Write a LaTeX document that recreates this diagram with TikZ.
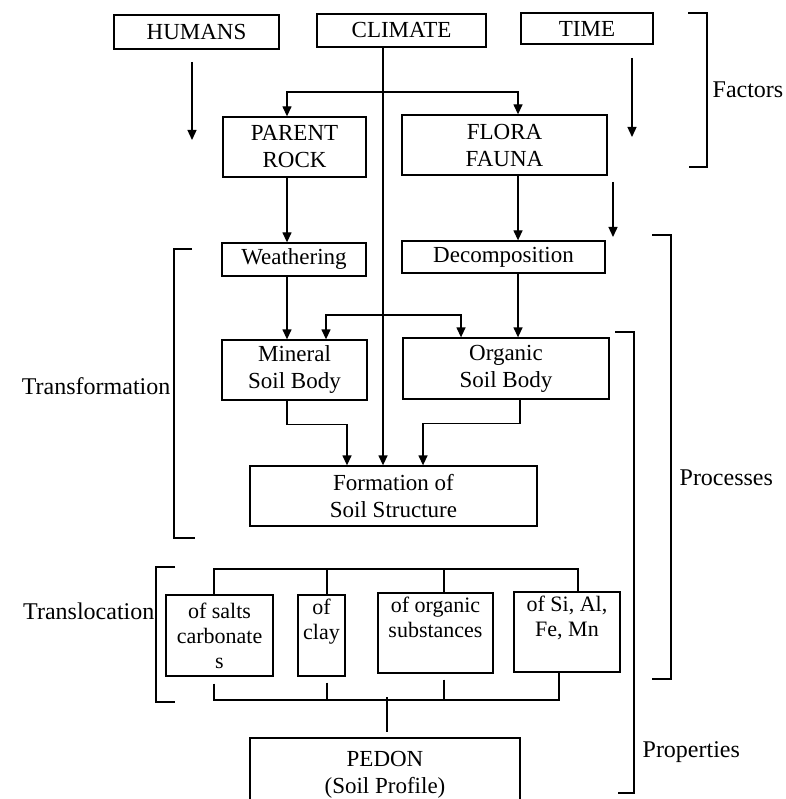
\documentclass[tikz,border=0pt]{standalone}
\usepackage{fontspec}
\setmainfont{Liberation Serif}
\usetikzlibrary{arrows.meta}
\newcommand\bx[7][]{\node[box,#1,minimum width={#5-#3},minimum height={#6-#4}] (#2) at ({(#3+#5)/2},{(#4+#6)/2}) {#7};}
\begin{document}
\begin{tikzpicture}[x=1pt,y=-1pt,
  line width=1.3pt,
  box/.style={draw,rectangle,inner sep=0pt,align=center,font=\fontsize{23}{27}\selectfont},
  small/.style={font=\fontsize{22}{25}\selectfont},
  lbl/.style={inner sep=0pt,font=\fontsize{24}{28}\selectfont},
  arr/.style={-{Triangle[length=10pt,width=9pt]}},
  darr/.style={{Triangle[length=10pt,width=9pt]}-{Triangle[length=10pt,width=9pt]}},
  brk/.style={line width=1.3pt}]
\useasboundingbox (0,0) rectangle (785,799);
\clip (0,0) rectangle (785,799);
% boxes
\bx{hu}{114}{15}{279}{49}{HUMANS}
\bx{cl}{317}{14}{486}{47}{CLIMATE}
\bx{ti}{521}{13}{653}{44}{TIME}
\bx{pr}{223}{117}{366}{177}{PARENT\\ROCK}
\bx{ff}{402}{115}{607}{175}{FLORA\\FAUNA}
\bx{we}{222}{243}{366}{276}{Weathering}
\bx{de}{402}{241}{605}{273}{Decomposition}
\bx{mi}{222}{340}{367}{400}{Mineral\\Soil Body}
\bx{or}{403}{338}{609}{399}{Organic\\Soil Body}
\bx{fo}{250}{466}{537}{526}{Formation of\\Soil Structure}
\bx[small]{sa}{166}{595}{273}{676}{of salts\\carbonate\\s}
\bx[small]{cy}{298}{595}{345}{676}{of\\clay\\\strut}
\bx[small]{os}{378}{593}{493}{673}{of organic\\substances\\\strut}
\bx[small]{si}{514}{592}{620}{672}{of Si, Al,\\Fe, Mn\\\strut}
\bx{pe}{250}{738}{520}{812}{PEDON\\(Soil Profile)}
% labels
\node[lbl,anchor=west] (lf) at (712,90) {Factors};
\node[lbl,anchor=west] (lp) at (679,478) {Processes};
\node[lbl,anchor=west] (lq) at (642,752) {Properties};
\node[lbl,anchor=east] (lt) at (171,386) {Transformation};
\node[lbl,anchor=east] (ll) at (155,611) {Translocation};
% free coordinates
\coordinate (h1) at (192,62); \coordinate (h2) at (192,140);
\coordinate (t1) at (632,58); \coordinate (t2) at (632,137);
\coordinate (s1) at (613,182); \coordinate (s2) at (613,237);
\coordinate (xA) at (287,0); \coordinate (xB) at (518,0);
\coordinate (xC) at (383,0); \coordinate (xD) at (326,0);
\coordinate (xE) at (461,0); \coordinate (xF) at (347,0);
\coordinate (xG) at (520,0); \coordinate (xH) at (423,0);
\coordinate (cj) at (383,92); \coordinate (mj) at (383,315);
\coordinate (d1) at (214,0); \coordinate (d2) at (327,0);
\coordinate (d3) at (444,0); \coordinate (d4) at (578,0);
\coordinate (d5) at (559,0); \coordinate (dist) at (383,569);
\coordinate (coll) at (387,700);
% arrows
\draw[arr] (h1) -- (h2);
\draw[arr] (t1) -- (t2);
\draw[arr] (s1) -- (s2);
\draw[arr] (cl.south -| xC) -- (fo.north -| xC);
\draw[darr] (pr.north -| xA) |- (cj) -| (ff.north -| xB);
\draw[arr] (pr.south -| xA) -- (we.north -| xA);
\draw[arr] (ff.south -| xB) -- (de.north -| xB);
\draw[arr] (we.south -| xA) -- (mi.north -| xA);
\draw[arr] (de.south -| xB) -- (or.north -| xB);
\draw[darr] (mi.north -| xD) |- (mj) -| (or.north -| xE);
\draw[arr] (mi.south -| xA) -- ++(0,24) -| (fo.north -| xF);
\draw[arr] (or.south -| xG) -- ++(0,24) -| (fo.north -| xH);
% translocation distributor
\draw (sa.north -| d1) |- (dist) -| (si.north -| d4);
\draw (cy.north -| d2) -- (d2 |- dist);
\draw (os.north -| d3) -- (d3 |- dist);
% collector
\draw[shorten <=7pt] (sa.south -| d1) |- (coll) -| (si.south -| d5);
\draw[shorten <=6pt] (cy.south -| d2) -- (d2 |- coll);
\draw[shorten <=6pt] (os.south -| d3) -- (d3 |- coll);
\draw[shorten >=5pt] ([yshift=3pt]coll) -- (pe.north -| coll);
% brackets
\draw[brk] (688,13) -- (707,13) -- (707,167) -- (689,167);
\draw[brk] (652,235) -- (671,235) -- (671,679) -- (652,679);
\draw[brk] (615,332) -- (634,332) -- (634,793) -- (618,793);
\draw[brk] (192,249) -- (174,249) -- (174,538) -- (195,538);
\draw[brk] (175,567) -- (156,567) -- (156,702) -- (175,702);
\end{tikzpicture}
\end{document}
